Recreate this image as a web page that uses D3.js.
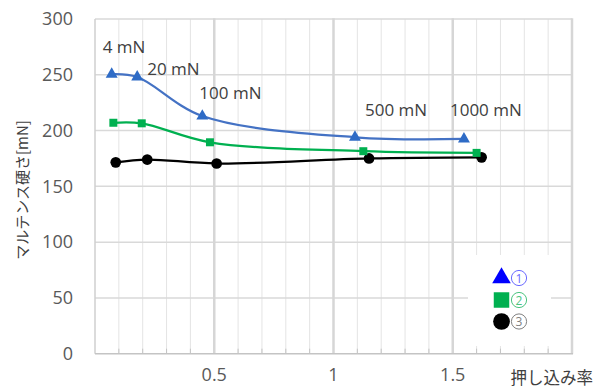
<!DOCTYPE html>
<html>
<head>
<meta charset="utf-8">
<script src="https://cdn.jsdelivr.net/npm/d3@7"></script>
<style>
  html, body { margin: 0; padding: 0; background: #fff; }
  svg { display: block; }
</style>
</head>
<body>
<svg id="chart" width="602" height="388"></svg>
<script>
// ---- data ----
const seriesNames = ["1", "2", "3"];
const x1 = [0.07, 0.177, 0.45, 1.09, 1.547];
const y1 = [250.5, 248, 213, 194, 192.5];
const x2 = [0.077, 0.196, 0.482, 1.125, 1.6];
const y2 = [207, 206.5, 189.5, 181.5, 180];
const x3 = [0.087, 0.219, 0.51, 1.149, 1.621];
const y3 = [171.5, 174, 170.5, 175, 176];
const loadLabels = ["4 mN", "20 mN", "100 mN", "500 mN", "1000 mN"];
const xTickLabels = [0.5, 1, 1.5];
const yTickLabels = [0, 50, 100, 150, 200, 250, 300];
const xTitle = "押し込み率";
const yTitle = "マルテンス硬さ[mN]";

// ---- layout ----
const svg = d3.select("#chart");
const L = 95, R = 572, T = 19, B = 353.7;
const x = d3.scaleLinear().domain([0, 2]).range([L, R]);
const y = d3.scaleLinear().domain([0, 300]).range([B, T]);
const numFont = "'Open Sans', 'Noto Sans', sans-serif";
const jpFont = "'Noto Sans CJK JP', 'Noto Sans', sans-serif";

// minor vertical grid
const minor = d3.range(1, 20).map(i => i / 10).filter(v => Math.abs(v * 2 - Math.round(v * 2)) > 1e-6);
svg.append("g").selectAll("line").data(minor).join("line")
  .attr("x1", d => x(d)).attr("x2", d => x(d))
  .attr("y1", y(300)).attr("y2", y(0))
  .attr("stroke", "#e4e4e4").attr("stroke-width", 1);

// horizontal grid
svg.append("g").selectAll("line").data(yTickLabels.filter(v => v > 0)).join("line")
  .attr("x1", L).attr("x2", R)
  .attr("y1", d => y(d)).attr("y2", d => y(d))
  .attr("stroke", "#d9d9d9").attr("stroke-width", 1.5);

// major vertical grid
svg.append("g").selectAll("line").data([0.5, 1, 1.5, 2]).join("line")
  .attr("x1", d => x(d)).attr("x2", d => x(d))
  .attr("y1", y(300) - 0.75).attr("y2", y(0))
  .attr("stroke", "#d6d6d6").attr("stroke-width", 2.5);

// minor ticks on axis
svg.append("g").selectAll("line").data(minor).join("line")
  .attr("x1", d => x(d)).attr("x2", d => x(d))
  .attr("y1", y(0) - 5).attr("y2", y(0))
  .attr("stroke", "#c4c4c4").attr("stroke-width", 1);

// axes lines
svg.append("line").attr("x1", L).attr("x2", L).attr("y1", y(300)).attr("y2", y(0))
  .attr("stroke", "#cfcfcf").attr("stroke-width", 1.5);
svg.append("line").attr("x1", L).attr("x2", R + 1).attr("y1", y(0)).attr("y2", y(0))
  .attr("stroke", "#c4c4c4").attr("stroke-width", 1.5);

// y tick labels
svg.append("g").selectAll("text").data(yTickLabels).join("text")
  .attr("x", 73).attr("y", d => y(d)).attr("dy", "0.35em")
  .attr("text-anchor", "end").attr("font-family", numFont).attr("font-size", 18)
  .attr("fill", "#595959").text(d => d);

// x tick labels
svg.append("g").selectAll("text").data(xTickLabels).join("text")
  .attr("x", d => x(d)).attr("y", 375).attr("dy", "0.35em")
  .attr("text-anchor", "middle").attr("font-family", numFont).attr("font-size", 18)
  .attr("fill", "#595959").text(d => d);

// axis titles
svg.append("text").attr("x", 593).attr("y", 378.5).attr("dy", "0.35em")
  .attr("text-anchor", "end").attr("font-family", jpFont).attr("font-size", 16.5)
  .attr("fill", "#404040").text(xTitle);
svg.append("text").attr("transform", "translate(23,190) rotate(-90)")
  .attr("dy", "0.35em").attr("text-anchor", "middle")
  .attr("font-family", jpFont).attr("font-size", 15)
  .attr("fill", "#404040").text(yTitle);

// series
const series = [
  { xs: x1, ys: y1, line: "#4472C4", mark: "#2E6BC6", sym: d3.symbolTriangle, size: 62 },
  { xs: x2, ys: y2, line: "#00B050", mark: "#00B050", sym: d3.symbolSquare, size: 64 },
  { xs: x3, ys: y3, line: "#000000", mark: "#000000", sym: d3.symbolCircle, size: 90 }
];
const lineGen = d3.line().x(d => x(d[0])).y(d => y(d[1])).curve(d3.curveCatmullRom.alpha(0.5));
series.slice().reverse().forEach(s => {
  const pts = s.xs.map((v, i) => [v, s.ys[i]]);
  svg.append("path").datum(pts).attr("d", lineGen)
    .attr("fill", "none").attr("stroke", s.line).attr("stroke-width", 2.25);
});
series.slice().reverse().forEach(s => {
  const pts = s.xs.map((v, i) => [v, s.ys[i]]);
  svg.append("g").selectAll("path").data(pts).join("path")
    .attr("d", d3.symbol().type(s.sym).size(s.size))
    .attr("transform", d => `translate(${x(d[0])},${y(d[1])})`)
    .attr("fill", s.mark);
});

// load labels, placed relative to series ① points
const labelOffsets = [[-9, -21], [10, -2], [-3, -17], [10, -21], [-14, -22.5]];
svg.append("g").selectAll("text").data(loadLabels).join("text")
  .attr("x", (d, i) => x(x1[i]) + labelOffsets[i][0])
  .attr("y", (d, i) => y(y1[i]) + labelOffsets[i][1])
  .attr("font-family", numFont).attr("font-size", 17)
  .attr("fill", "#404040").text(d => d);

// legend
const lg = svg.append("g");
lg.append("rect").attr("x", 468).attr("y", 255).attr("width", 83).attr("height", 91).attr("fill", "#fff");
const legendSyms = [
  { sym: d3.symbolTriangle, size: 150, fill: "#0000FF", txt: "#6B6BFF", cy: 278 },
  { sym: d3.symbolSquare, size: 240, fill: "#00B050", txt: "#4CC47F", cy: 300 },
  { sym: d3.symbolCircle, size: 220, fill: "#000000", txt: "#808080", cy: 321.5 }
];
lg.selectAll("path").data(legendSyms).join("path")
  .attr("d", d => d3.symbol().type(d.sym).size(d.size)())
  .attr("transform", d => `translate(501.5,${d.cy})`)
  .attr("fill", d => d.fill);
lg.selectAll("circle").data(legendSyms).join("circle")
  .attr("cx", 519).attr("cy", d => d.cy).attr("r", 7.6)
  .attr("fill", "none").attr("stroke", d => d.txt).attr("stroke-width", 1);
lg.selectAll("text").data(legendSyms).join("text")
  .attr("x", 519).attr("y", d => d.cy + 0.5).attr("dy", "0.35em")
  .attr("text-anchor", "middle").attr("font-family", numFont).attr("font-size", 12)
  .attr("fill", d => d.txt).text((d, i) => seriesNames[i]);
</script>
</body>
</html>
